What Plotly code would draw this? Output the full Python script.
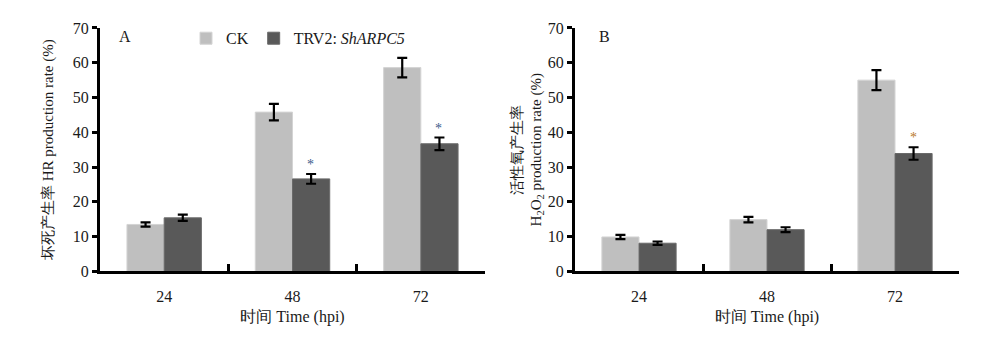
import plotly.graph_objects as go

times = ["24", "48", "72"]
hr_ck = [13.5, 45.8, 58.6]
hr_ck_err = [0.6, 2.4, 2.8]
hr_trv = [15.4, 26.6, 36.7]
hr_trv_err = [0.9, 1.4, 1.8]
ros_ck = [9.9, 14.9, 55.0]
ros_ck_err = [0.6, 0.8, 2.9]
ros_trv = [8.1, 12.0, 33.9]
ros_trv_err = [0.5, 0.7, 1.8]

CK_COLOR = "#bfbfbf"
TRV_COLOR = "#595959"
FONT = "Liberation Serif"
TXT = "#1a1a1a"

fig = go.Figure()

def add_bars(xa, ya, ck, ckerr, trv, trverr, show):
    fig.add_trace(go.Bar(x=times, y=ck, name="CK", marker=dict(color=CK_COLOR, line=dict(color="#d4d4d4", width=1)),
                         error_y=dict(type="data", array=ckerr, color="black", thickness=2.2, width=5),
                         xaxis=xa, yaxis=ya, showlegend=show, legendgroup="ck"))
    fig.add_trace(go.Bar(x=times, y=trv, name="TRV2: <i>ShARPC5</i>", marker=dict(color=TRV_COLOR, line=dict(color="#6a6a6a", width=1)),
                         error_y=dict(type="data", array=trverr, color="black", thickness=2.2, width=5),
                         xaxis=xa, yaxis=ya, showlegend=show, legendgroup="trv"))

add_bars("x", "y", hr_ck, hr_ck_err, hr_trv, hr_trv_err, True)
add_bars("x2", "y2", ros_ck, ros_ck_err, ros_trv, ros_trv_err, False)

ydom = [1 - 277 / 346, 1 - 21 / 346]
xcommon = dict(type="category", range=[-0.5, 2.5], showline=True, linecolor="black", linewidth=3,
               ticks="inside", tickson="boundaries", ticklen=7, tickwidth=3, tickcolor="black",
               ticklabelstandoff=8,
               tickfont=dict(family=FONT, size=16, color=TXT), showgrid=False, zeroline=False,
               title=dict(text="时间 Time (hpi)", font=dict(family=FONT, size=16, color=TXT), standoff=8))
ycommon = dict(range=[0, 70], dtick=10, showline=True, linecolor="black", linewidth=3,
               ticks="outside", ticklen=5, tickwidth=2.5, tickcolor="black",
               tickfont=dict(family=FONT, size=16, color=TXT), showgrid=False, zeroline=False,
               domain=ydom)

fig.update_layout(
    width=1000, height=346,
    margin=dict(l=0, r=0, t=0, b=0),
    paper_bgcolor="white", plot_bgcolor="white",
    barmode="group", bargap=0.42, bargroupgap=0,
    font=dict(family=FONT, size=15, color=TXT),
    xaxis=dict(domain=[0.100, 0.485], anchor="y", **xcommon),
    xaxis2=dict(domain=[0.575, 0.959], anchor="y2", **xcommon),
    yaxis=dict(anchor="x", title=dict(text="坏死产生率 HR production rate (%)", font=dict(family=FONT, size=15, color=TXT), standoff=16), **ycommon),
    yaxis2=dict(anchor="x2", title=dict(text="活性氧产生率<br>H<sub>2</sub>O<sub>2</sub> production rate (%)", font=dict(family=FONT, size=15, color=TXT), standoff=3), **ycommon),
    legend=dict(orientation="h", x=0.186, y=1 - 14 / 346, xanchor="left", yanchor="top",
                font=dict(family=FONT, size=16, color=TXT), traceorder="normal",
                bgcolor="rgba(0,0,0,0)"),
)

# panel letters
fig.add_annotation(text="A", xref="paper", yref="paper", x=0.125, y=1 - 30 / 346, showarrow=False,
                   font=dict(family=FONT, size=16, color=TXT), xanchor="center", yanchor="middle")
fig.add_annotation(text="B", xref="paper", yref="paper", x=0.604, y=1 - 30 / 346, showarrow=False,
                   font=dict(family=FONT, size=16, color=TXT), xanchor="center", yanchor="middle")

# significance asterisks (category index positions)
sig = [("x", "y", 1, hr_trv[1] + hr_trv_err[1], "#3a5a8a"),
       ("x", "y", 2, hr_trv[2] + hr_trv_err[2], "#3a5a8a"),
       ("x2", "y2", 2, ros_trv[2] + ros_trv_err[2], "#b8782a")]
for xa, ya, idx, top, col in sig:
    fig.add_annotation(text="*", xref=xa, yref=ya, x=idx, y=top, xshift=18, yshift=0,
                       showarrow=False, yanchor="bottom", font=dict(family=FONT, size=14, color=col))

fig.write_html("out.html")
